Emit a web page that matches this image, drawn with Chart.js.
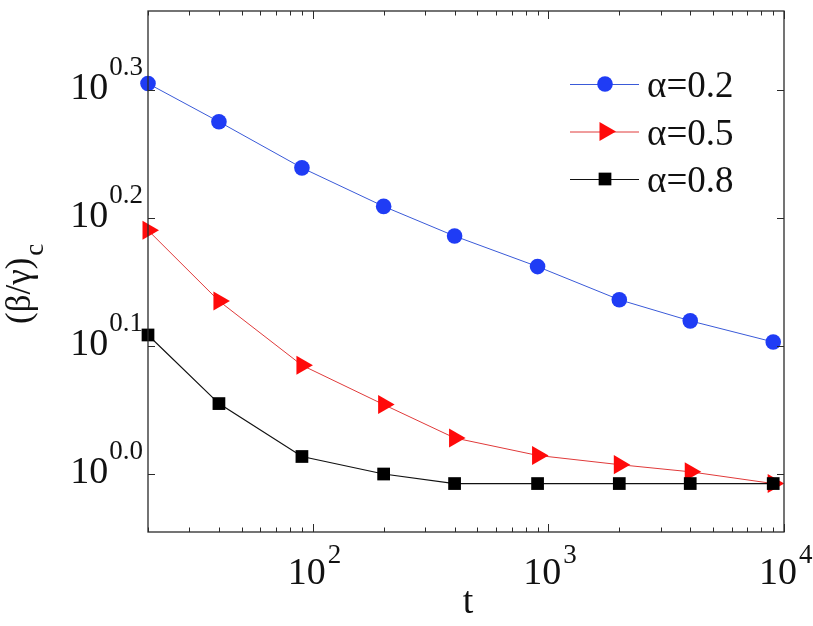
<!DOCTYPE html>
<html>
<head>
<meta charset="utf-8">
<script src="https://cdn.jsdelivr.net/npm/chart.js@4.4.1/dist/chart.umd.min.js"></script>
<style>
  html, body { margin: 0; padding: 0; background: #ffffff; }
  #wrap { width: 813px; height: 626px; }
</style>
</head>
<body>
<div id="wrap"><canvas id="c" width="813" height="626"></canvas></div>
<script>
// ---------------- data ----------------
const tValues = [20, 40, 90, 200, 400, 900, 2000, 4000, 9000];
const alpha02 = [2.018, 1.884, 1.734, 1.618, 1.534, 1.452, 1.368, 1.317, 1.268];
const alpha05 = [1.550, 1.365, 1.216, 1.133, 1.067, 1.034, 1.017, 1.004, 0.983];
const alpha08 = [1.284, 1.135, 1.032, 1.000, 0.983, 0.983, 0.983, 0.983, 0.983];
const seriesLabels = ['α=0.2', 'α=0.5', 'α=0.8'];

// axis ticks (value, exponent text)
const xTickValues = [100, 1000, 10000];
const xTickExponents = ['2', '3', '4'];
const yTickValues = [1.0, 1.2589, 1.5849, 1.9953];
const yTickExponents = ['0.0', '0.1', '0.2', '0.3'];

const xTitle = 't';
const yTitleMain = '(β/γ)';
const yTitleSub = 'c';

// ---------------- styling ----------------
const SERIF = '"Liberation Serif"';
const styles = [
  { line: '#3a5ad8', fill: '#1f3cf5', shape: 'circle',   r: 7.8, width: 1 },
  { line: '#e03a3a', fill: '#ff0a0a', shape: 'triangle', r: 11,  width: 1 },
  { line: '#111111', fill: '#000000', shape: 'rect',     r: 9,   width: 1.2 }
];
const seriesValues = [alpha02, alpha05, alpha08];

function toPoints(vals) { return tValues.map((t, i) => ({ x: t, y: vals[i] })); }

const datasets = seriesValues.map((vals, i) => ({
  label: seriesLabels[i],
  data: toPoints(vals),
  borderColor: styles[i].line,
  backgroundColor: styles[i].fill,
  borderWidth: styles[i].width,
  pointStyle: styles[i].shape,
  pointRotation: styles[i].shape === 'triangle' ? 90 : 0,
  pointRadius: styles[i].r,
  pointHoverRadius: styles[i].r,
  pointBackgroundColor: styles[i].fill,
  pointBorderColor: styles[i].fill,
  pointBorderWidth: 0,
  tension: 0,
  clip: false,
  order: 2 - i
}));

function drawMarker(ctx, st, x, y) {
  ctx.save();
  ctx.fillStyle = st.fill;
  ctx.beginPath();
  if (st.shape === 'circle') {
    ctx.arc(x, y, st.r, 0, Math.PI * 2);
  } else if (st.shape === 'triangle') {
    ctx.moveTo(x + st.r, y);
    ctx.lineTo(x - st.r / 2, y - st.r * Math.sqrt(3) / 2);
    ctx.lineTo(x - st.r / 2, y + st.r * Math.sqrt(3) / 2);
    ctx.closePath();
  } else {
    const s = st.r / Math.SQRT2;
    ctx.rect(x - s, y - s, 2 * s, 2 * s);
  }
  ctx.fill();
  ctx.restore();
}

const framePlugin = {
  id: 'frame',
  afterDatasetsDraw(chart) {
    const ctx = chart.ctx;
    const ca = chart.chartArea;
    const xs = chart.scales.x, ys = chart.scales.y;
    ctx.save();
    ctx.strokeStyle = '#2a2a2a';
    ctx.lineWidth = 1.3;
    ctx.strokeRect(ca.left, ca.top, ca.right - ca.left, ca.bottom - ca.top);

    ctx.lineWidth = 1;
    ctx.beginPath();
    for (let d = 1; d <= 4; d++) {
      for (let m = 1; m <= 9; m++) {
        const v = m * Math.pow(10, d);
        if (v < xs.min || v > xs.max) continue;
        const px = Math.round(xs.getPixelForValue(v)) + 0.5;
        const len = (m === 1) ? 8 : 4.5;
        ctx.moveTo(px, ca.bottom); ctx.lineTo(px, ca.bottom - len);
        ctx.moveTo(px, ca.top); ctx.lineTo(px, ca.top + len);
      }
    }
    yTickValues.forEach(v => {
      const py = Math.round(ys.getPixelForValue(v)) + 0.5;
      ctx.moveTo(ca.left, py); ctx.lineTo(ca.left + 7, py);
      ctx.moveTo(ca.right, py); ctx.lineTo(ca.right - 7, py);
    });
    ctx.stroke();

    ctx.fillStyle = '#111111';
    ctx.textBaseline = 'alphabetic';
    ctx.textAlign = 'left';
    const baseFont = '38px ' + SERIF;
    const supFont = '27px ' + SERIF;
    yTickValues.forEach((v, i) => {
      const py = ys.getPixelForValue(v);
      ctx.font = supFont;
      const ew = ctx.measureText(yTickExponents[i]).width;
      ctx.font = baseFont;
      const bw = ctx.measureText('10').width;
      const xEnd = ca.left - 5;
      ctx.font = supFont;
      ctx.fillText(yTickExponents[i], xEnd - ew, py - 15);
      ctx.font = baseFont;
      ctx.fillText('10', xEnd - ew - bw - 1, py + 9);
    });
    xTickValues.forEach((v, i) => {
      const px = xs.getPixelForValue(v);
      ctx.font = baseFont;
      const bw = ctx.measureText('10').width;
      const left = px - 6 - bw / 2;
      ctx.fillText('10', left, ca.bottom + 52);
      ctx.font = supFont;
      ctx.fillText(xTickExponents[i], left + bw + 2, ca.bottom + 31);
    });

    ctx.font = '38px ' + SERIF;
    ctx.textAlign = 'center';
    ctx.fillText(xTitle, (ca.left + ca.right) / 2 + 2, ca.bottom + 81);

    ctx.save();
    ctx.translate(30, 324);
    ctx.rotate(-Math.PI / 2);
    ctx.textAlign = 'left';
    ctx.font = '35px ' + SERIF;
    const tw = ctx.measureText(yTitleMain).width;
    ctx.fillText(yTitleMain, 0, 0);
    ctx.font = '27px ' + SERIF;
    ctx.fillText(yTitleSub, tw + 2, 13);
    ctx.restore();

    const lx0 = 570, lx1 = 639, mx = 605, tx = 647;
    seriesLabels.forEach((lab, i) => {
      const y = 84 + i * 47.5;
      const st = styles[i];
      ctx.strokeStyle = st.line;
      ctx.lineWidth = st.width;
      ctx.beginPath();
      ctx.moveTo(lx0, y + 0.5); ctx.lineTo(lx1, y + 0.5);
      ctx.stroke();
      drawMarker(ctx, st, mx, y);
      ctx.fillStyle = '#111111';
      ctx.font = '37px ' + SERIF;
      ctx.textAlign = 'left';
      ctx.fillText(lab, tx, y + 13);
    });
    ctx.restore();
  }
};

new Chart(document.getElementById('c'), {
  type: 'line',
  data: { datasets: datasets },
  options: {
    responsive: false,
    animation: false,
    devicePixelRatio: 1,
    layout: { padding: { top: 2, right: 29, left: 0, bottom: 0 } },
    plugins: {
      legend: { display: false },
      tooltip: { enabled: false }
    },
    events: [],
    scales: {
      x: {
        type: 'logarithmic',
        min: 20,
        max: 10000,
        grid: { display: false },
        border: { display: false },
        ticks: { display: false },
        afterFit(scale) { scale.height = 94; }
      },
      y: {
        type: 'logarithmic',
        min: 0.901,
        max: 2.299,
        grid: { display: false },
        border: { display: false },
        ticks: { display: false },
        afterFit(scale) { scale.width = 148; }
      }
    }
  },
  plugins: [framePlugin]
});
</script>
</body>
</html>
